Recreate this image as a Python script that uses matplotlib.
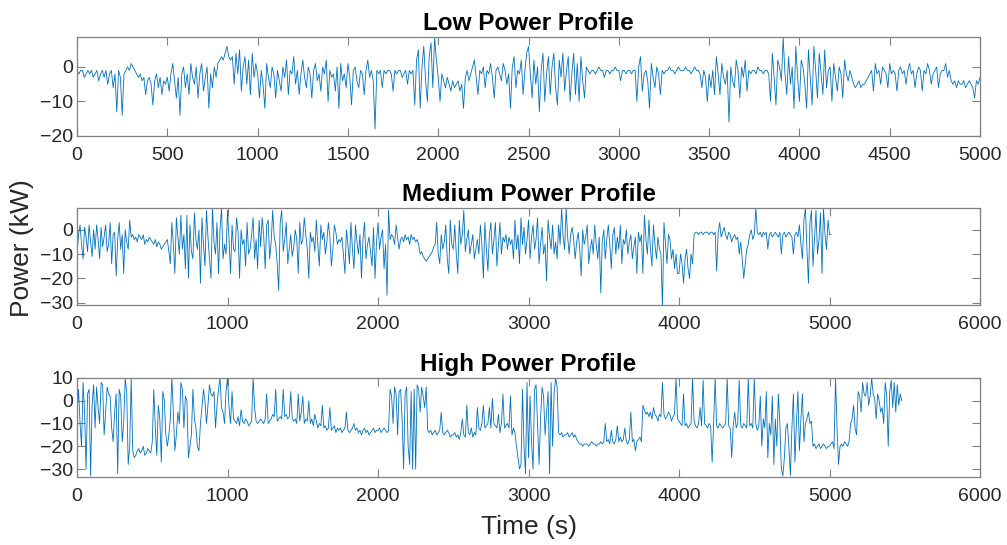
import numpy as np
import matplotlib
matplotlib.use("Agg")
from matplotlib import pyplot as plt

# paso de muestreo de las series leidas a mano (s)
paso = 10

# potencia perfil bajo (kW), cada 10 s de 0 a 5000 s
p_bajo = [
    -1, -2, -1, -1, -3, -2, -1, -2, -1, -3, -2, -1, -4, -2, -1, -3, -1, -5, -2, -1, -6, -2, -13, -1, -3,
    -14, -2, -1, 0, -1, 1, 0, -1, -2, -3, -2, -4, -3, -8, -4, -3, -5, -11, -4, -2, -6, -3, -8, -4, -5,
    -3, -7, -2, 1, -4, -9, -3, -14, -2, 0, -6, -2, -8, 1, -3, -5, 0, -9, -2, 1, -7, -3, 0, -12, -2,
    -6, 0, -3, 1, 2, 3, 2, 4, 6, 3, 2, 3, -5, 4, -2, 5, -7, 0, 3, -5, 2, -8, 4, -3, 1,
    -2, -9, -1, -5, -12, 1, -3, -6, 0, -2, -9, -1, -4, -7, 0, -3, 2, -8, -1, -2, 3, -5, -1, -8, -2,
    2, -3, -6, 0, -2, -9, -1, 1, -4, -2, -7, 0, -2, 2, -10, -1, -3, -2, -7, 0, -12, 1, -4, -2, -6,
    1, -3, -11, -1, 0, -4, -6, -1, -2, -8, -1, 2, -3, -1, -4, -18, -1, -2, -1, -6, -1, -2, -1, -1, -2,
    -7, -1, -2, -1, -1, -3, -2, -1, -5, -1, -2, -1, -11, 2, 5, -12, 0, 6, -4, -10, 3, 7, -6, 8.5, 2,
    -3, -10, -2, -4, -6, -3, -5, -7, -4, -6, -5, -4, -7, -5, -12, -3, -1, -4, -2, 0, 2, -3, -8, -1, -2,
    0, -6, -1, -2, 1, -3, -9, -1, 0, -2, -4, 1, -1, -5, -2, -12, 0, 3, -6, -1, -2, 2, -8, -1, 4,
    6, -2, -9, 2, -5, 0, -13, -1, 4, -10, -2, 3, -8, 0, 4, -6, -11, 2, -3, 4, -7, -1, 3, -10, -2,
    4, -8, 1, -10, 3, -4, -9, 0, -1, -2, -1, -1, -2, -1, 0, -1, -1, -3, -1, -1, -2, -1, -1, 0, -1,
    -1, -4, -1, -1, -2, -1, -1, -2, -1, -1, -10, 0, 3, -7, -2, -1, -4, -12, 1, -3, -6, 0, -2, -8, -1,
    -2, -1, -1, 0, -1, -1, -2, -1, 0, -1, -1, -1, 0, -1, -1, -2, -1, 0, -1, -1, -2, -6, -1, -3, -10,
    -2, -6, -1, -8, 3, -2, -8, 1, -3, -5, -1, -16, 0, -4, -6, 2, -1, -9, 0, -3, 2, -7, -1, -2, -1,
    -1, -2, 0, -1, -1, -2, -1, -1, -2, -10, 4, -3, -11, 2, 0, -4, 8.5, -2, -8, 3, -5, 0, -12, 6, -3,
    -10, 2, 0, -5, -12, 5, -3, -11, 6, -1, -9, 4, -2, -8, 5, -6, -1, 0, -10, 1, -3, -7, 0, -2, -9,
    2, -2, -4, -1, -3, -5, -6, -5, -4, -6, -5, -5, -4, -3, -2, -1, -7, 1, -2, -1, -5, 0, -1, -2, -6,
    1, -2, -1, -2, -7, -1, 0, -2, -1, -5, -1, 1, -2, -1, -6, -2, 0, -1, -7, -1, -2, 1, -1, -5, -2,
    -1, 0, -6, -2, -1, -1, 1, -3, -1, -4, -5, -4, -6, -4, -5, -5, -4, -6, -5, -4, -5, -6, -9, -4, -5,
    -3,
]

# potencia perfil medio (kW), cada 10 s de 0 a 5010 s
p_medio = [
    -10, -2, 2, -6, -12, 1, -3, -9, 2, -5, -11, 0, -8, 2, -4, -12, 1, -7, -3, 2, -9, -6, 3, -14, -2,
    -1, -19, -4, 3, -8, -2, -18, 0, -5, -8, 4, -3, -2, -4, -3, -5, -2, -3, -4, -2, -6, -4, -5, -3, -4,
    -5, -6, -4, -7, -5, -6, -8, -7, -6, -5, -4, -9, -14, 3, -6, -18, 5, -3, -10, 6, -8, -2, -16, 6, -20,
    2, -9, -12, 7, -4, -8, 0, -22, 5, -6, -15, 8, -3, -12, -20, 9, -5, -10, 3, -18, 0, 9, -12, -6, -10,
    8, -4, -18, 2, -8, -9, 5, -1, -20, 0, -6, -4, -15, 3, -10, -8, -2, 5, -12, -4, -16, 4, -7, 5, -2,
    -16, 2, 4, -12, -5, 8, -3, -6, -14, -25, 3, 8, -9, -4, 3, -14, -8, -2, -11, -7, 0, -4, -18, 3, -6,
    -4, 5, -2, -8, -20, -1, -5, -3, -9, 4, -6, -15, 2, -4, -1, -10, -5, 3, -3, -15, -8, 2, -1, -6, -4,
    -5, -3, -10, -18, 0, -6, -14, 3, -8, -16, 2, -5, -10, -2, -20, -4, 3, -12, -6, -3, -9, -15, 1, -20, -5,
    3, -8, -3, 0, -16, -6, -27, 8, -4, -2, -3, -6, 2, -3, -8, -4, -3, -5, -2, -4, -3, -6, -2, -4, -3,
    -5, -4, -6, -10, -9, -11, -12, -13, -12, -11, -10, -9, -7, -6, 3, -10, -14, -2, -8, -5, 2, -12, -18, 4, -6,
    -8, 2, -10, -18, 4, -6, -2, 8, -9, -4, 0, -10, -6, -2, -12, -8, -4, -10, 2, -6, -20, 3, -8, -17, -2,
    3, -10, -4, 3, -15, -6, 3, -10, -3, -5, -2, -8, -3, -6, -4, -12, 4, -8, -2, -14, 5, -6, 1, -10, -4,
    4, -12, -3, 2, -8, -4, 5, -14, -6, 1, -10, -6, -21, 4, -3, -8, 2, -10, -5, -12, 2, -6, 9, -3, -8,
    9, -3, -10, -2, 1, -4, -12, -5, -1, -8, -19, 0, -6, -3, 2, -14, -8, -4, -10, 2, -6, -12, -3, -26, -5,
    0, -12, -4, 2, -6, -16, -2, 1, -10, -3, -8, 2, -14, -4, -6, 0, -10, -5, -2, -12, -7, -3, -18, -1, -5,
    -2, -18, 6, -4, -10, 4, -8, -15, 2, -6, -12, -3, -8, -10, -32, 3, -6, -14, -2, -4, -12, -8, -16, -10, -18,
    -18, -10, -14, -22, -12, -8, -16, -20, -10, -14, -2, -1, -1, -2, -1, -1, -2, -1, -1, -1, -2, -1, -1, -2, -1,
    -17, -1, 3, -3, -1, 1, -2, -4, -1, -2, -5, -3, -2, -4, -3, -10, -5, -12, -20, -14, -8, -6, -2, 0, -4,
    -2, 9, -1, -2, -1, -3, -1, -2, -1, -8, -2, -1, -3, -2, -1, -2, -3, -1, -10, -2, -1, -3, -2, -1, -2,
    -3, -10, -2, -1, -3, 2, -6, -12, 4, 9, -8, -22, 3, 8, -15, -4, 8, -10, -4, 7, -18, 9, -2, -8, 4,
    -2, -2,
]

# potencia perfil alto (kW), cada 10 s de 0 a 5480 s
p_alto = [
    -5, 5, -10, -20, 8, -5, -30, 3, 5, -33, -2, 7, -12, 6, -3, -10, 8, 7, -15, -5, 6, 3, 2, -12, -18,
    -5, 3, -32, 5, 2, -18, -10, 10, 4, -28, -20, 10, -22, -25, -24, -22, -21, -23, -22, -20, -24, -23, -21, -22, -23,
    -18, 5, -12, -24, -2, -8, -27, 4, 0, -15, -20, -15, -8, 10, -5, -22, -15, -5, -10, 8, 5, -12, 2, 0, -25,
    -20, -15, 5, -8, -12, -20, -22, -10, -3, 5, 0, -10, -2, 7, 3, 2, 4, -12, -2, 5, 10, -3, -5, -10, 4,
    10, -3, -10, 4, -8, -9, -10, -7, -11, -4, -9, -10, -8, -9, -11, -10, -9, 10, -3, -9, -10, -9, -8, -9, -10,
    -8, 3, -10, -9, -8, -6, -7, 5, -9, -8, -7, -8, 5, -7, -6, -8, -7, 4, -8, -9, -8, -10, 3, -9, -5,
    2, -10, -8, -9, 0, -10, -8, -11, -6, -9, -12, -10, -11, -2, -12, -11, -13, -12, -3, -13, -12, -11, -14, -12, -13,
    -12, -14, -13, -12, -5, -13, -14, -13, -12, -10, -13, -12, -14, -13, -15, -13, -12, -14, -13, -15, -14, -13, -12, -14, -13,
    -13, -12, -14, -13, -12, -13, -14, -13, 5, 2, -10, 6, 3, -15, 4, 5, -8, -30, 3, 6, -20, -28, 4, -30, 5,
    -30, 7, 5, -5, 6, 2, -3, 6, -13, -14, -13, -15, -14, -13, -15, -14, -13, -5, -14, -15, -14, -13, -14, -16, -15,
    -15, -14, -16, -15, -17, -14, -8, -15, -16, -2, -14, -15, -12, -16, -14, -15, -3, -12, -13, -10, -2, -12, -11, -10, -3,
    -12, 1, -10, -11, -12, -6, -14, -10, 3, -12, -11, -10, -12, 2, -15, -12, -14, -20, -25, -30, -28, 5, -20, -32, 8,
    -25, 2, -18, -30, 5, 7, -10, -28, -8, 6, 2, -15, -5, 4, -32, 8, -20, 3, 10, 6, -14, -15, -14, -16, -15,
    -15, -14, -16, -15, -14, -16, -15, -17, -18, -19, -19, -20, -19, -19, -19, -20, -19, -18, -19, -19, -20, -19, -19, -18, -19,
    -18, -10, -18, -17, -19, -13, -18, -19, -17, -11, -18, -16, -18, -17, -12, -18, -19, -17, -5, -18, -17, -22, -18, -17, -16,
    -18, -2, -4, -6, -5, -7, -5, -8, -3, -6, -7, -9, -6, -7, 8, -6, -8, -7, -5, -6, -9, -7, -6, 10, -8,
    -9, -10, -11, 3, -11, -10, -12, -11, -10, 10, -9, -11, -12, -10, -3, -11, 9, -10, -11, -12, -10, -11, -27, -10, 10,
    -11, -12, -10, -11, -12, -11, -10, 10, -11, -12, -25, -11, -5, -12, -10, 9, -11, -12, -10, -11, -12, 10, -11, -10, -12,
    10, -10, -13, -11, 2, -20, -8, -12, 4, -25, -10, -15, 2, -28, -8, -20, 3, -10, -30, -33, -25, -12, -10, -20, -33,
    -12, 3, -27, -10, 4, -22, -8, 3, -18, -10, -8, -5, -10, -9, -20, -19, -21, -20, -19, -21, -20, -19, -20, -21, -20,
    -20, -19, -18, -21, 10, -12, -28, -20, -19, -20, -18, -19, -20, -18, -10, -8, -2, -12, -15, 4, 2, -5, 8, 3, 2,
    8, -2, 2, 10, 3, 1, -8, 3, 0, -5, -3, -10, 8, 2, -20, 4, 9, -3, 8, -5, 7, -2, 3, 0,
]

titulos = ["Low Power Profile", "Medium Power Profile", "High Power Profile"]
series = [p_bajo, p_medio, p_alto]
xlims = [(0, 5000), (0, 6000), (0, 6000)]
ylims = [(-20, 8.7), (-31, 9), (-33.5, 10)]
xticks = [np.arange(0, 5001, 500), np.arange(0, 6001, 1000), np.arange(0, 6001, 1000)]
yticks = [[-20, -10, 0], [-30, -20, -10, 0], [-30, -20, -10, 0, 10]]

azul = "#0072BD"
gris = "#262626"

fig = plt.figure(figsize=(10.07, 5.45), dpi=100)
plt.rcParams["font.family"] = ["Liberation Sans", "DejaVu Sans"]

# posiciones de los ejes (fraccion de la figura)
posiciones = [
    [0.0765, 0.7505, 0.8967, 0.1817],
    [0.0765, 0.4404, 0.8967, 0.1780],
    [0.0765, 0.1248, 0.8967, 0.1817],
]

for i in range(3):
    ax = fig.add_axes(posiciones[i])
    p = np.array(series[i])
    t = np.arange(len(p)) * paso
    ax.plot(t, p, color=azul, linewidth=0.6)
    ax.set_xlim(xlims[i])
    ax.set_ylim(ylims[i])
    ax.set_xticks(xticks[i])
    ax.set_yticks(yticks[i])
    ax.tick_params(direction="in", length=6, width=0.8, colors="#808080",
                   labelcolor=gris, labelsize=14, top=True, right=True)
    ax.tick_params(axis="x", pad=8)
    ax.tick_params(axis="y", pad=3)
    for s in ax.spines.values():
        s.set_color("#808080")
        s.set_linewidth(0.9)
    ax.set_title(titulos[i], fontsize=17.5, fontweight="bold", pad=5)

fig.text(0.022, 0.545, "Power (kW)", rotation=90, ha="center", va="center",
         fontsize=19, color=gris)
fig.text(0.525, 0.033, "Time (s)", ha="center", va="center", fontsize=19, color=gris)

plt.savefig("out.png", dpi=100)
